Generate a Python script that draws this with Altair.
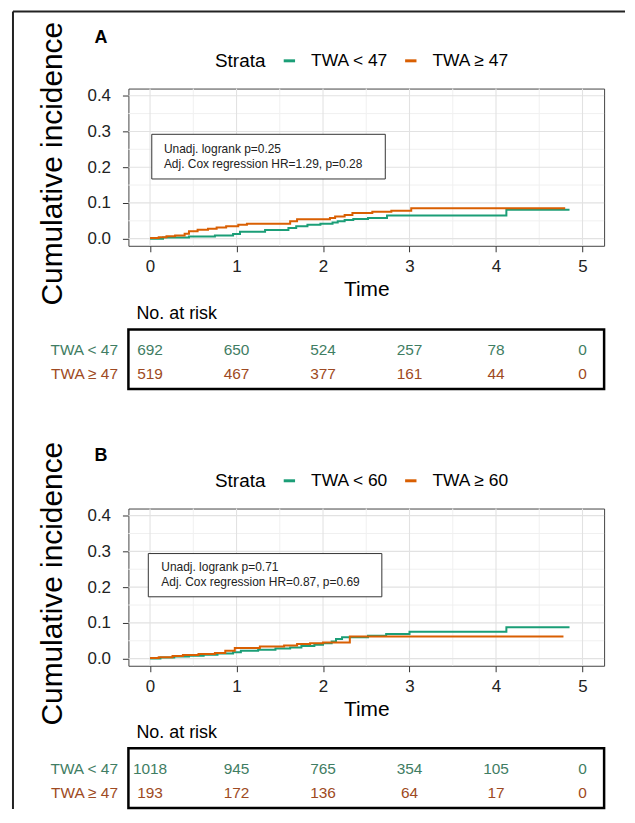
import altair as alt
import pandas as pd

FONT = "Liberation Sans"
GREEN = "#1b9e77"
ORANGE = "#d95f02"
TGREEN = "#3f7d63"
TBROWN = "#9e4a22"

# ---------------- data ----------------
# Panel A: cumulative incidence step curves
a_low_t = [0, 0.15, 0.45, 0.75, 0.96, 1.04, 1.33, 1.60, 1.69, 1.82, 1.97, 2.11, 2.17, 2.25, 2.35, 2.52, 2.74, 4.12, 4.85]
a_low_v = [0, 0.003, 0.006, 0.009, 0.013, 0.019, 0.024, 0.030, 0.035, 0.039, 0.042, 0.045, 0.049, 0.052, 0.055, 0.058, 0.065, 0.081, 0.081]
a_high_t = [0, 0.10, 0.19, 0.29, 0.40, 0.45, 0.55, 0.67, 0.77, 0.88, 1.02, 1.12, 1.62, 1.70, 2.08, 2.14, 2.25, 2.34, 2.57, 2.79, 3.02, 4.80]
a_high_v = [0.002, 0.004, 0.007, 0.009, 0.014, 0.021, 0.025, 0.028, 0.031, 0.035, 0.039, 0.042, 0.049, 0.054, 0.058, 0.062, 0.066, 0.072, 0.075, 0.078, 0.085, 0.085]

# Panel B
b_low_t = [0, 0.12, 0.28, 0.45, 0.62, 0.78, 0.96, 1.05, 1.25, 1.45, 1.62, 1.75, 1.90, 2.00, 2.10, 2.15, 2.22, 2.52, 2.73, 3.00, 4.12, 4.85]
b_low_v = [0, 0.003, 0.006, 0.008, 0.011, 0.014, 0.018, 0.022, 0.025, 0.028, 0.031, 0.035, 0.039, 0.043, 0.048, 0.055, 0.060, 0.064, 0.069, 0.075, 0.088, 0.088]
b_high_t = [0, 0.10, 0.26, 0.38, 0.56, 0.75, 0.87, 0.98, 1.27, 1.55, 1.70, 1.85, 2.00, 2.31, 4.78]
b_high_v = [0.002, 0.004, 0.007, 0.010, 0.013, 0.016, 0.022, 0.030, 0.034, 0.037, 0.041, 0.043, 0.045, 0.062, 0.062]

strata_a = ["TWA < 47", "TWA ≥ 47"]
strata_b = ["TWA < 60", "TWA ≥ 60"]
row_labels = ["TWA < 47", "TWA ≥ 47"]

stats_a = ["Unadj. logrank p=0.25", "Adj. Cox regression HR=1.29, p=0.28"]
stats_b = ["Unadj. logrank p=0.71", "Adj. Cox regression HR=0.87, p=0.69"]

risk_times = [0, 1, 2, 3, 4, 5]
risk_a_low = [692, 650, 524, 257, 78, 0]
risk_a_high = [519, 467, 377, 161, 44, 0]
risk_b_low = [1018, 945, 765, 354, 105, 0]
risk_b_high = [193, 172, 136, 64, 17, 0]

x_ticks = [0, 1, 2, 3, 4, 5]
x_minor = [0.5, 1.5, 2.5, 3.5, 4.5]
y_ticks = [0.0, 0.1, 0.2, 0.3, 0.4]
y_minor = [0.05, 0.15, 0.25, 0.35]

# annotation box placement in data units: (x, x2, y, y2, text_x, line1_y, line2_y)
box_a = (0.02, 2.72, 0.167, 0.292, 0.16, 0.250, 0.208)
box_b = (-0.02, 2.68, 0.173, 0.294, 0.13, 0.255, 0.213)

# ---------------- layout ----------------
W = 478
H = 158
XDOM = [-0.25, 5.25]
YDOM = [-0.02, 0.42]

AX = alt.Axis(
    values=x_ticks, format="d", labelFontSize=17, labelFont=FONT, labelColor="#222",
    tickSize=6, tickColor="#333", labelPadding=7, domain=False, grid=False,
    title="Time", titleFont=FONT, titleFontSize=21, titleFontWeight="normal", titleColor="black",
    titleX=W / 2, titleY=44, titleAlign="center", titleBaseline="middle")
AY = alt.Axis(
    values=y_ticks, format=".1f", labelFontSize=17, labelFont=FONT, labelColor="#222",
    tickSize=6, tickColor="#333", labelPadding=12, domain=False, grid=False,
    title="Cumulative incidence", titleFont=FONT, titleFontSize=30, titleFontWeight="normal",
    titleColor="black", titleX=-76, titleY=H / 2 - 4, titleAngle=270, titleAlign="center",
    titleBaseline="middle")


def km_panel(letter, strata, tl, vl, th, vh, stats, box, title_dy):
    df = pd.concat([
        pd.DataFrame({"time": tl, "inc": vl, "strata": strata[0]}),
        pd.DataFrame({"time": th, "inc": vh, "strata": strata[1]}),
    ])
    xs = alt.Scale(domain=XDOM, nice=False, zero=False)
    ys = alt.Scale(domain=YDOM, nice=False, zero=False)

    minor_x = alt.Chart(pd.DataFrame({"g": x_minor})).mark_rule(color="#f0f0f0", strokeWidth=1).encode(
        x=alt.X("g:Q", scale=xs, axis=AX, title="Time"))
    minor_y = alt.Chart(pd.DataFrame({"g": y_minor})).mark_rule(color="#f0f0f0", strokeWidth=1).encode(
        y=alt.Y("g:Q", scale=ys, axis=AY, title="Cumulative incidence"))
    major_x = alt.Chart(pd.DataFrame({"g": x_ticks})).mark_rule(color="#e2e2e2", strokeWidth=1.1).encode(
        x=alt.X("g:Q", scale=xs, axis=AX, title="Time"))
    major_y = alt.Chart(pd.DataFrame({"g": y_ticks})).mark_rule(color="#e2e2e2", strokeWidth=1.1).encode(
        y=alt.Y("g:Q", scale=ys, axis=AY, title="Cumulative incidence"))

    lines = alt.Chart(df).mark_line(interpolate="step-after", strokeWidth=2).encode(
        x=alt.X("time:Q", scale=xs, axis=AX, title="Time"),
        y=alt.Y("inc:Q", scale=ys, axis=AY, title="Cumulative incidence"),
        color=alt.Color("strata:N", scale=alt.Scale(domain=strata, range=[GREEN, ORANGE]),
                        legend=alt.Legend(
                            orient="none", legendX=87, legendY=-37, direction="horizontal",
                            title="Strata", titleOrient="left", titleFontSize=19, titleFont=FONT,
                            titleFontWeight="normal", titleColor="black", titlePadding=15,
                            labelFontSize=17.5, labelFont=FONT, labelColor="black", labelOffset=13,
                            symbolType="stroke", symbolStrokeWidth=3, symbolSize=130,
                            columnPadding=10)),
        detail="strata:N",
    )

    bdf = pd.DataFrame({"x": [box[0]], "x2": [box[1]], "y": [box[2]], "y2": [box[3]]})
    rect = alt.Chart(bdf).mark_rect(fill="white", stroke="#333", strokeWidth=1).encode(
        x=alt.X("x:Q", scale=xs, axis=AX, title="Time"), x2="x2:Q",
        y=alt.Y("y:Q", scale=ys, axis=AY, title="Cumulative incidence"), y2="y2:Q")
    tdf = pd.DataFrame({"x": [box[4], box[4]], "y": [box[5], box[6]], "t": stats})
    txt = alt.Chart(tdf).mark_text(align="left", baseline="middle", fontSize=12, font=FONT, color="#222").encode(
        x=alt.X("x:Q", scale=xs, axis=AX, title="Time"),
        y=alt.Y("y:Q", scale=ys, axis=AY, title="Cumulative incidence"),
        text="t:N")

    return alt.layer(minor_x, minor_y, major_x, major_y, lines, rect, txt).properties(
        width=W, height=H,
        title=alt.TitleParams(letter, anchor="start", frame="group", fontSize=18, fontWeight="bold",
                              font=FONT, color="black", dx=-34, dy=title_dy, offset=4),
        view=alt.ViewBackground(stroke="#444", strokeWidth=1),
    )


def risk_table(lo, hi):
    df = pd.DataFrame({
        "time": risk_times + risk_times,
        "n": lo + hi,
        "row": [row_labels[0]] * 6 + [row_labels[1]] * 6,
    })
    xs = alt.Scale(domain=XDOM, nice=False, zero=False)
    return alt.Chart(df).mark_text(fontSize=15.5, font=FONT, baseline="middle", dy=2.5).encode(
        x=alt.X("time:Q", scale=xs, axis=None),
        y=alt.Y("row:N", scale=alt.Scale(domain=row_labels, type="point", padding=0.75),
                axis=alt.Axis(title=None, domain=False, ticks=False, labelFontSize=15.5, labelFont=FONT,
                              labelPadding=11, labelOffset=2.5,
                              labelColor=alt.condition("datum.label == '" + row_labels[0] + "'",
                                                       alt.value(TGREEN), alt.value(TBROWN)))),
        text="n:Q",
        color=alt.Color("row:N", scale=alt.Scale(domain=row_labels, range=[TGREEN, TBROWN]), legend=None),
    ).properties(
        width=W, height=60,
        title=alt.TitleParams("No. at risk", anchor="start", frame="group", fontSize=18, fontWeight="normal",
                              font=FONT, color="black", dx=8, offset=6),
        view=alt.ViewBackground(stroke="black", strokeWidth=2.5),
    )


def spacer(h, frame=False):
    base = alt.Chart(pd.DataFrame({"s": [0]})).mark_point(opacity=0).encode(
        x=alt.X("s:Q", axis=None), y=alt.Y("s:Q", axis=None))
    layers = [base]
    if frame:
        # figure border (top and left edge of the original figure frame)
        vline = alt.Chart(pd.DataFrame({"k": [0]})).mark_rule(color="#222", strokeWidth=2).encode(
            x=alt.value(-116), y=alt.value(-235.5), y2=alt.value(566))
        hline = alt.Chart(pd.DataFrame({"k": [0]})).mark_rule(color="#222", strokeWidth=2).encode(
            x=alt.value(-116), x2=alt.value(499), y=alt.value(-235.5))
        layers += [vline, hline]
    return alt.layer(*layers).properties(width=W, height=h,
                                         view=alt.ViewBackground(stroke="transparent", fill="transparent"))


panel_a = km_panel("A", strata_a, a_low_t, a_low_v, a_high_t, a_high_v, stats_a, box_a, 30)
panel_b = km_panel("B", strata_b, b_low_t, b_low_v, b_high_t, b_high_v, stats_b, box_b, 28)
table_a = risk_table(risk_a_low, risk_a_high)
table_b = risk_table(risk_b_low, risk_b_high)

chart = alt.vconcat(
    panel_a, spacer(83.5, frame=True), table_a, spacer(120), panel_b, spacer(83), table_b,
    spacing=0, bounds="flush",
).resolve_scale(color="independent", x="independent", y="independent").properties(
    padding={"left": 3, "top": 0, "right": 0, "bottom": 0}
)

chart.save("out.html", embed_options={"renderer": "svg", "actions": False})
